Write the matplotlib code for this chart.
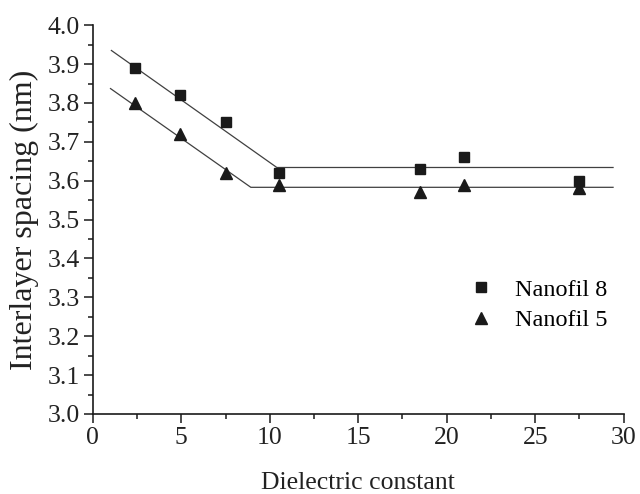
import matplotlib.pyplot as plt
from matplotlib.ticker import MultipleLocator

plt.rcParams['font.family'] = ['Liberation Serif', 'DejaVu Serif']

# measured points
x_vals = [2.4, 4.9, 7.5, 10.5, 18.5, 21.0, 27.5]
nanofil8 = [3.89, 3.82, 3.75, 3.62, 3.63, 3.66, 3.60]
nanofil5 = [3.80, 3.72, 3.62, 3.59, 3.57, 3.59, 3.58]

# guide lines (slope, then plateau)
fit8_x = [1.05, 10.4, 29.4]
fit8_y = [3.935, 3.634, 3.634]
fit5_x = [1.0, 8.93, 29.4]
fit5_y = [3.837, 3.583, 3.583]

fig = plt.figure(figsize=(6.4, 4.94), dpi=100)
ax = fig.add_axes([0.145, 0.162, 0.8295, 0.787])

ax.plot(fit8_x, fit8_y, color="#404040", linewidth=0.9)
ax.plot(fit5_x, fit5_y, color="#404040", linewidth=0.9)
ax.plot(x_vals, nanofil8, linestyle="none", marker="s", markersize=6.5,
        color="#1a1a1a", label="Nanofil 8")
ax.plot(x_vals, nanofil5, linestyle="none", marker="^", markersize=8,
        color="#1a1a1a", label="Nanofil 5")

ax.set_xlim(0, 30)
ax.set_ylim(3.0, 4.0)
ax.xaxis.set_major_locator(MultipleLocator(5))
ax.xaxis.set_minor_locator(MultipleLocator(2.5))
ax.yaxis.set_major_locator(MultipleLocator(0.1))
ax.yaxis.set_minor_locator(MultipleLocator(0.05))
ax.yaxis.set_major_formatter(plt.FormatStrFormatter('%.1f'))

ax.spines['top'].set_visible(False)
ax.spines['right'].set_visible(False)
for s in ['left', 'bottom']:
    ax.spines[s].set_linewidth(1.2)
    ax.spines[s].set_color("#1a1a1a")

ax.tick_params(which="major", direction="out", length=6.5, width=1.1,
               labelsize=18.5, colors="#1a1a1a", labelcolor="#222222", pad=3)
ax.tick_params(which="minor", direction="out", length=3.3, width=1.1,
               colors="#1a1a1a")

ax.set_xlabel("Dielectric constant", fontsize=18.5, color="#222222", labelpad=16.5)
ax.set_ylabel("Interlayer spacing (nm)", fontsize=23, color="#222222", labelpad=6)

ax.legend(loc="center left", bbox_to_anchor=(0.66, 0.28), frameon=False,
          fontsize=17.5, handletextpad=0.75, labelspacing=0.35, handlelength=1.3)

plt.savefig("out.png", dpi=100)
